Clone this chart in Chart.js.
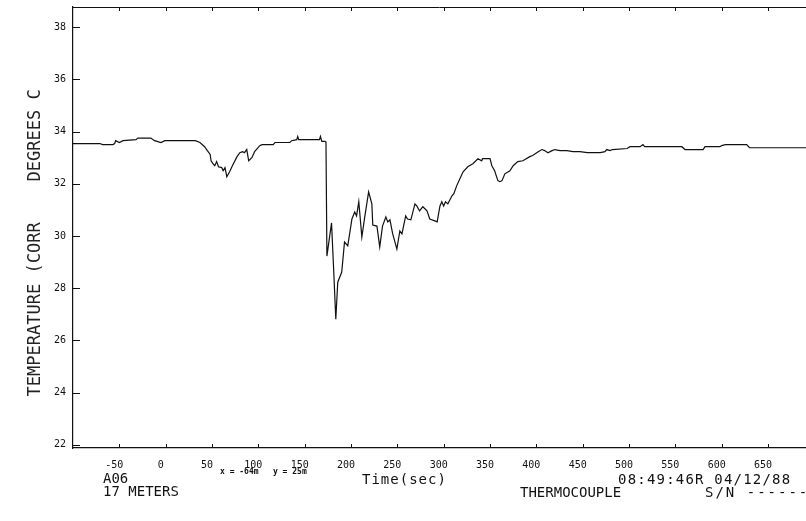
<!DOCTYPE html>
<html>
<head>
<meta charset="utf-8">
<script src="https://cdn.jsdelivr.net/npm/chart.js@4.4.1/dist/chart.umd.min.js"></script>
<style>
  body { margin: 0; background: #fff; }
  #wrap { position: relative; width: 806px; height: 521px; overflow: hidden; }
  .note { position: absolute; font-family: "DejaVu Sans Mono", monospace; font-size: 14px; line-height: 14px; color: #111; white-space: pre; }
</style>
</head>
<body>
<div id="wrap">
  <canvas id="trace"></canvas>
  <div class="note" style="left:103px;top:471px;">A06</div>
  <div class="note" style="left:103px;top:484px;">17 METERS</div>
  <div class="note" style="left:220px;top:468px;font-size:8px;line-height:8px;font-weight:bold;">x = -64m   y = 25m</div>
  <div class="note" style="left:362px;top:472px;letter-spacing:1px;">Time(sec)</div>
  <div class="note" style="left:618px;top:472px;letter-spacing:1.2px;">08:49:46R 04/12/88</div>
  <div class="note" style="left:520px;top:485px;">THERMOCOUPLE</div>
  <div class="note" style="left:705px;top:485px;letter-spacing:2px;">S/N ------</div>
</div>
<script>
const xTicks = [-50, 0, 50, 100, 150, 200, 250, 300, 350, 400, 450, 500, 550, 600, 650];
const yTicks = [22, 24, 26, 28, 30, 32, 34, 36, 38];

// time in seconds / corrected temperature
const timeSec = [
  -100, -71, -68, -57, -55, -54, -50, -46, -32, -30, -16, -12, -5, -1,
  32, 37, 42, 45, 48, 49, 51, 53, 55, 57, 60.5, 62, 64, 66, 69, 72,
  77, 80, 83, 85, 87.5, 89.6, 93, 96, 101.5, 104, 116, 118, 134, 136,
  141.5, 142.5, 143.6, 166, 167, 168.5, 172, 173,
  174, 179, 181.4, 183.6, 185.7, 190, 193, 196.5, 201, 204, 206, 208.4,
  211.7, 215, 219, 222.5, 223.5, 228, 231, 234, 237.6, 239.7,
  242, 245, 249.5, 252.7, 255, 259, 261, 264.6, 269, 271, 274, 277.5,
  282, 285, 290.5, 293, 296, 298, 300, 302, 304.5, 309, 311, 314,
  317.5, 321, 326, 331.5, 337, 341, 342, 350, 352, 355, 358.5, 360.7,
  363, 366, 371.5, 375, 380, 385.5, 393, 396, 402, 406, 409, 412.5,
  417, 420, 425.5, 433, 439.5, 447, 455, 469, 474, 476, 479.5, 482,
  498, 501, 512, 515, 517, 557, 560.5, 580, 582, 598, 600, 604, 627, 630, 692
];
const tempC = [
  33.54, 33.54, 33.50, 33.50, 33.54, 33.65, 33.58, 33.65, 33.69, 33.75, 33.75, 33.65, 33.58, 33.65,
  33.65, 33.58, 33.42, 33.27, 33.12, 32.88, 32.77, 32.69, 32.85, 32.65, 32.62, 32.50, 32.62, 32.27, 32.46, 32.69,
  33.04, 33.19, 33.23, 33.19, 33.31, 32.88, 33.00, 33.23, 33.46, 33.50, 33.50, 33.58, 33.58, 33.65,
  33.69, 33.81, 33.69, 33.69, 33.81, 33.62, 33.62, 33.58,
  29.23, 30.50, 28.62, 26.81, 28.23, 28.62, 29.77, 29.62, 30.65, 30.92, 30.77, 31.31,
  29.96, 30.77, 31.69, 31.23, 30.42, 30.38, 29.58, 30.38, 30.73, 30.54,
  30.62, 30.08, 29.50, 30.19, 30.08, 30.77, 30.65, 30.62, 31.23, 31.15, 30.96, 31.12,
  30.96, 30.65, 30.58, 30.54, 31.15, 31.31, 31.15, 31.31, 31.23, 31.54, 31.62, 31.92,
  32.19, 32.46, 32.65, 32.77, 32.96, 32.88, 32.96, 32.96, 32.69, 32.50, 32.12, 32.08,
  32.12, 32.38, 32.50, 32.69, 32.85, 32.88, 33.04, 33.08, 33.23, 33.31, 33.27, 33.19,
  33.27, 33.31, 33.27, 33.27, 33.23, 33.23, 33.19, 33.19, 33.23, 33.31, 33.27, 33.31,
  33.35, 33.42, 33.42, 33.50, 33.42, 33.42, 33.31, 33.31, 33.42, 33.42, 33.46, 33.50, 33.50, 33.38, 33.38
];

const plotFont = "DejaVu Sans Mono";

// inward tick marks plus the top frame line, like the plotter output
const frameTicks = {
  id: "frameTicks",
  afterDraw(chart) {
    const { ctx, chartArea } = chart;
    const xs = chart.scales.x;
    const ys = chart.scales.y;
    ctx.save();
    ctx.strokeStyle = "#111";
    ctx.lineWidth = 1;
    ctx.beginPath();
    ctx.moveTo(chartArea.left, chartArea.top + 0.5);
    ctx.lineTo(chartArea.right, chartArea.top + 0.5);
    yTicks.forEach((v) => {
      const py = Math.round(ys.getPixelForValue(v)) + 0.5;
      ctx.moveTo(chartArea.left, py);
      ctx.lineTo(chartArea.left + 7, py);
    });
    xTicks.forEach((v) => {
      const px = Math.round(xs.getPixelForValue(v)) + 0.5;
      ctx.moveTo(px, chartArea.bottom);
      ctx.lineTo(px, chartArea.bottom - 4);
      ctx.moveTo(px, chartArea.top);
      ctx.lineTo(px, chartArea.top + 4);
    });
    ctx.stroke();
    ctx.restore();
  },
};

new Chart(document.getElementById("trace"), {
  type: "line",
  data: {
    datasets: [
      {
        data: timeSec.map((t, i) => ({ x: t, y: tempC[i] })),
        borderColor: "#111",
        borderWidth: 1.2,
        pointRadius: 0,
        tension: 0,
        fill: false,
      },
    ],
  },
  options: {
    responsive: true,
    maintainAspectRatio: false,
    animation: false,
    layout: { padding: { top: 7, right: 0, left: 0, bottom: 0 } },
    plugins: { legend: { display: false }, tooltip: { enabled: false } },
    scales: {
      x: {
        type: "linear",
        min: -100,
        max: 691,
        afterBuildTicks: (scale) => {
          scale.ticks = xTicks.map((v) => ({ value: v }));
        },
        afterFit: (scale) => {
          scale.height = 73;
          scale.paddingLeft = 0;
          scale.paddingRight = 0;
        },
        grid: { display: false, drawTicks: false },
        border: { display: true, color: "#111", width: 1.2 },
        ticks: {
          padding: 11,
          labelOffset: -5,
          maxRotation: 0,
          color: "#111",
          font: { family: plotFont, size: 10 },
        },
      },
      y: {
        min: 21.88,
        max: 38.77,
        afterBuildTicks: (scale) => {
          scale.ticks = yTicks.map((v) => ({ value: v }));
        },
        afterFit: (scale) => {
          scale.width = 73;
          scale.paddingTop = 0;
          scale.paddingBottom = 0;
        },
        grid: { display: false, drawTicks: false },
        border: { display: true, color: "#111", width: 1.2 },
        ticks: {
          padding: 7,
          color: "#111",
          font: { family: plotFont, size: 10 },
        },
        title: {
          display: true,
          text: "TEMPERATURE (CORR    DEGREES C   ",
          color: "#222",
          padding: { top: 25, bottom: 0 },
          font: { family: plotFont, size: 17 },
        },
      },
    },
  },
  plugins: [frameTicks],
});
</script>
</body>
</html>
